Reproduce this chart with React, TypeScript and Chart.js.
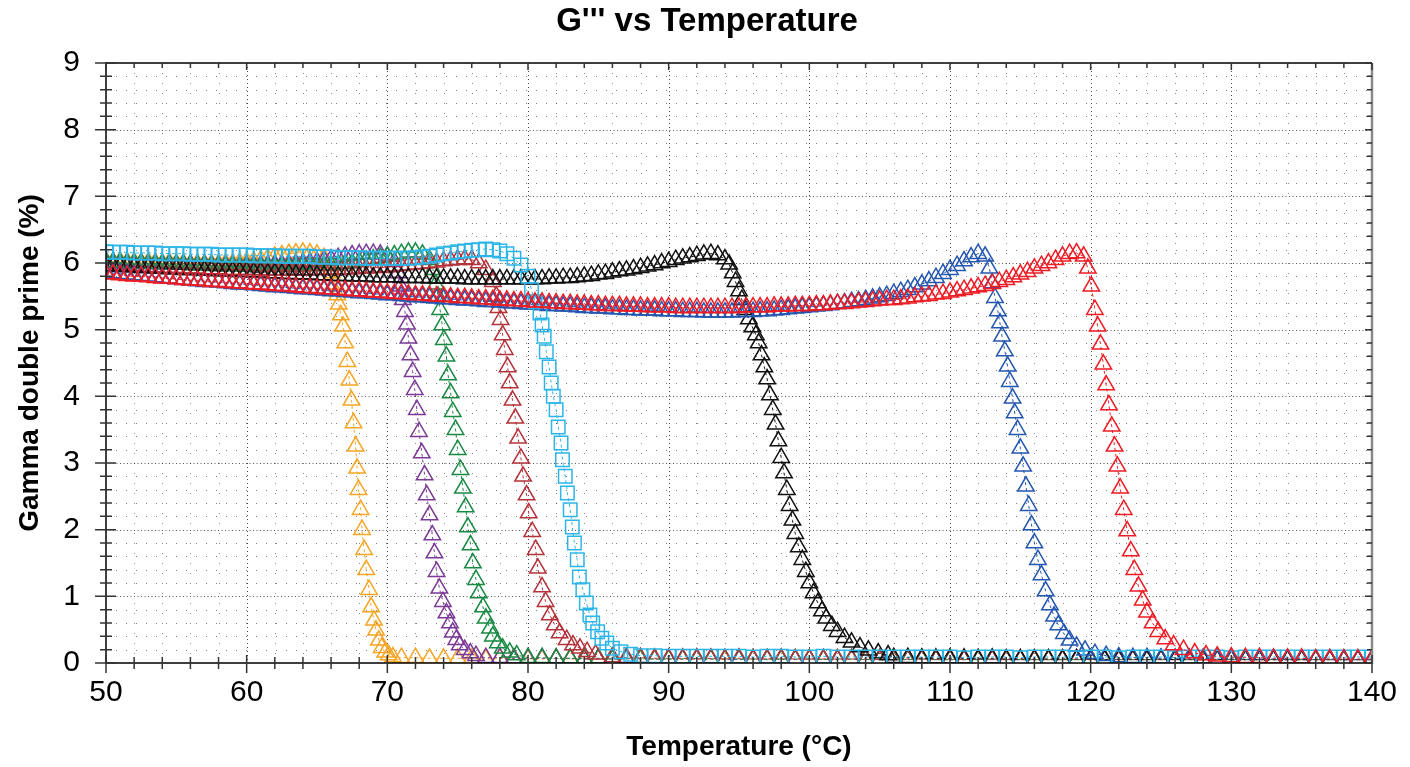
import React, { useEffect, useRef } from 'react';
import { Chart, registerables } from 'chart.js';

Chart.register(...registerables);

const FONT = '"Liberation Sans", Arial, Helvetica, sans-serif';

const TITLE = "G''' vs Temperature";
const X_TITLE = 'Temperature (°C)';
const Y_TITLE = 'Gamma double prime (%)';

const X_MIN = 50, X_MAX = 140, X_MAJOR = 10, X_MINOR = 2;
const Y_MIN = 0, Y_MAX = 9, Y_MAJOR = 1, Y_MINOR = 0.2;

// sampling grid: head values every 0.5 °C from 50 °C, tail values every 1 °C
const HEAD_START = 50;
const HEAD_STEP = 0.5;
const TAIL_STEP = 1;

type Pair = [number, number];

// ---------- orange ----------
const orangeHead = [6.03, 6.02, 6.03, 6.02, 6.02, 6.01, 6.02, 6.01, 6.0, 6.01, 6.0, 6.0, 5.99, 6.0, 5.99, 5.99, 5.99, 6.0, 6.0, 6.01, 6.02, 6.03, 6.05, 6.07, 6.1, 6.12, 6.14, 6.15, 6.16, 6.15, 6.13, 6.08];
const orangeDrop: Pair[] = [[65.8, 5.98], [66.05, 5.85], [66.3, 5.68], [66.45, 5.52], [66.55, 5.38], [66.7, 5.22], [66.85, 5.05], [67.0, 4.8], [67.15, 4.52], [67.3, 4.24], [67.45, 3.94], [67.6, 3.6], [67.75, 3.25], [67.85, 2.92], [67.95, 2.6], [68.1, 2.3], [68.2, 2.0], [68.35, 1.7], [68.5, 1.4], [68.7, 1.1], [68.85, 0.84], [69.05, 0.64], [69.2, 0.49], [69.4, 0.34], [69.6, 0.23], [69.85, 0.16], [70.1, 0.12], [70.4, 0.09]];
const orangeTailStart = 71;
const orangeTail = [0.08, 0.08, 0.07, 0.07, 0.07, 0.07, 0.06, 0.07, 0.07, 0.06, 0.06, 0.07, 0.06, 0.06, 0.06, 0.06, 0.07, 0.06, 0.06, 0.06, 0.06, 0.06, 0.06, 0.05, 0.06, 0.06, 0.06, 0.05, 0.06, 0.06, 0.06, 0.05, 0.05, 0.06, 0.06, 0.05, 0.06, 0.05, 0.05, 0.06, 0.05, 0.05, 0.06, 0.05, 0.05, 0.05, 0.06, 0.05, 0.05, 0.05, 0.05, 0.05, 0.05, 0.05, 0.06, 0.05, 0.05, 0.05, 0.05, 0.05, 0.05, 0.05, 0.05, 0.05, 0.05, 0.05, 0.05, 0.05, 0.05, 0.05];

// ---------- purple ----------
const purpleHead = [6.0, 6.01, 6.0, 6.0, 5.99, 6.0, 5.99, 5.99, 5.98, 5.99, 5.98, 5.98, 5.98, 5.97, 5.98, 5.97, 5.97, 5.97, 5.97, 5.96, 5.97, 5.97, 5.97, 5.97, 5.98, 5.98, 5.98, 5.99, 6.0, 6.01, 6.02, 6.04, 6.06, 6.08, 6.1, 6.12, 6.13, 6.14, 6.14, 6.13, 6.1, 6.02];
const purpleDrop: Pair[] = [[70.75, 5.85], [70.95, 5.65], [71.1, 5.45], [71.25, 5.27], [71.4, 5.08], [71.5, 4.87], [71.65, 4.62], [71.8, 4.37], [71.95, 4.1], [72.1, 3.8], [72.25, 3.47], [72.45, 3.15], [72.65, 2.82], [72.8, 2.52], [73.0, 2.22], [73.2, 1.92], [73.35, 1.65], [73.5, 1.37], [73.7, 1.12], [73.95, 0.92], [74.2, 0.75], [74.45, 0.6], [74.65, 0.46], [74.9, 0.35], [75.15, 0.27], [75.5, 0.2], [75.9, 0.15], [76.3, 0.11]];
const purpleTailStart = 77;
const purpleTail = [0.08, 0.08, 0.07, 0.07, 0.07, 0.07, 0.07, 0.06, 0.07, 0.06, 0.06, 0.07, 0.06, 0.06, 0.06, 0.06, 0.06, 0.06, 0.05, 0.06, 0.06, 0.06, 0.05, 0.06, 0.06, 0.05, 0.06, 0.05, 0.06, 0.05, 0.05, 0.06, 0.05, 0.05, 0.05, 0.06, 0.05, 0.05, 0.05, 0.05, 0.05, 0.05, 0.06, 0.05, 0.05, 0.05, 0.05, 0.05, 0.05, 0.05, 0.05, 0.05, 0.05, 0.05, 0.05, 0.05, 0.05, 0.05, 0.05, 0.05, 0.05, 0.05, 0.05, 0.05];

// ---------- green ----------
const greenHead = [6.02, 6.01, 6.01, 6.0, 6.0, 6.0, 5.99, 5.99, 5.99, 5.98, 5.98, 5.98, 5.97, 5.97, 5.97, 5.96, 5.96, 5.96, 5.96, 5.95, 5.95, 5.95, 5.95, 5.95, 5.95, 5.95, 5.95, 5.95, 5.96, 5.96, 5.96, 5.97, 5.97, 5.98, 5.99, 6.0, 6.02, 6.04, 6.06, 6.08, 6.1, 6.12, 6.14, 6.16, 6.16, 6.13, 6.05];
const greenDrop: Pair[] = [[73.25, 5.9], [73.45, 5.68], [73.6, 5.5], [73.75, 5.3], [73.9, 5.07], [74.02, 4.85], [74.2, 4.6], [74.32, 4.32], [74.5, 4.05], [74.65, 3.77], [74.85, 3.5], [75.0, 3.2], [75.2, 2.9], [75.37, 2.62], [75.57, 2.34], [75.73, 2.04], [75.92, 1.77], [76.08, 1.5], [76.3, 1.25], [76.5, 1.05], [76.8, 0.84], [77.0, 0.67], [77.3, 0.52], [77.5, 0.4], [77.85, 0.3], [78.2, 0.22], [78.7, 0.16], [79.2, 0.12]];
const greenTailStart = 80;
const greenTail = [0.08, 0.08, 0.07, 0.07, 0.07, 0.07, 0.06, 0.07, 0.06, 0.06, 0.06, 0.06, 0.07, 0.06, 0.06, 0.06, 0.06, 0.05, 0.06, 0.06, 0.06, 0.05, 0.06, 0.06, 0.05, 0.06, 0.05, 0.05, 0.06, 0.05, 0.05, 0.05, 0.05, 0.06, 0.05, 0.05, 0.05, 0.05, 0.05, 0.05, 0.05, 0.06, 0.05, 0.05, 0.05, 0.05, 0.05, 0.05, 0.05, 0.05, 0.05, 0.05, 0.05, 0.05, 0.05, 0.05, 0.05, 0.05, 0.05, 0.05, 0.05];

// ---------- dark red ----------
const brownHead = [5.96, 5.96, 5.95, 5.95, 5.95, 5.94, 5.94, 5.94, 5.93, 5.93, 5.93, 5.92, 5.92, 5.92, 5.91, 5.91, 5.91, 5.9, 5.9, 5.9, 5.9, 5.9, 5.89, 5.89, 5.89, 5.89, 5.89, 5.89, 5.89, 5.89, 5.9, 5.9, 5.9, 5.9, 5.91, 5.91, 5.92, 5.92, 5.93, 5.93, 5.94, 5.95, 5.96, 5.97, 5.98, 5.99, 6.0, 6.01, 6.03, 6.04, 6.05, 6.06, 6.05, 6.0, 5.9, 5.72];
const brownDrop: Pair[] = [[77.75, 5.5], [77.9, 5.33], [78.05, 5.15], [78.2, 4.92], [78.35, 4.7], [78.55, 4.44], [78.7, 4.2], [78.9, 3.94], [79.1, 3.67], [79.3, 3.37], [79.5, 3.07], [79.65, 2.8], [79.9, 2.52], [80.05, 2.25], [80.3, 1.97], [80.55, 1.7], [80.7, 1.42], [81.0, 1.14], [81.25, 0.92], [81.55, 0.72], [81.9, 0.57], [82.25, 0.45], [82.75, 0.35], [83.2, 0.27], [83.7, 0.22], [84.2, 0.17], [84.8, 0.13]];
const brownTailStart = 86;
const brownTail = [0.09, 0.08, 0.08, 0.07, 0.07, 0.07, 0.07, 0.07, 0.06, 0.07, 0.06, 0.06, 0.07, 0.06, 0.06, 0.06, 0.06, 0.06, 0.06, 0.05, 0.06, 0.06, 0.06, 0.05, 0.06, 0.05, 0.06, 0.05, 0.05, 0.06, 0.05, 0.05, 0.05, 0.05, 0.06, 0.05, 0.05, 0.05, 0.05, 0.05, 0.05, 0.05, 0.05, 0.05, 0.05, 0.05, 0.05, 0.05, 0.05, 0.05, 0.05, 0.05, 0.05, 0.05, 0.05];

// ---------- light blue (squares) ----------
const cyanHead = [6.17, 6.16, 6.16, 6.16, 6.15, 6.15, 6.15, 6.15, 6.14, 6.14, 6.14, 6.14, 6.13, 6.13, 6.13, 6.13, 6.12, 6.12, 6.12, 6.12, 6.12, 6.11, 6.11, 6.11, 6.11, 6.1, 6.1, 6.1, 6.1, 6.1, 6.09, 6.09, 6.09, 6.08, 6.08, 6.08, 6.08, 6.07, 6.07, 6.07, 6.07, 6.07, 6.07, 6.07, 6.08, 6.09, 6.1, 6.12, 6.14, 6.15, 6.17, 6.18, 6.19, 6.2, 6.21, 6.2, 6.18, 6.14, 6.07, 5.97, 5.8];
const cyanDrop: Pair[] = [[80.25, 5.6], [80.5, 5.42], [80.85, 5.25], [81.0, 5.07], [81.15, 4.9], [81.3, 4.67], [81.5, 4.44], [81.65, 4.2], [81.8, 4.0], [82.0, 3.8], [82.15, 3.54], [82.35, 3.3], [82.45, 3.05], [82.65, 2.8], [82.8, 2.55], [83.0, 2.3], [83.15, 2.04], [83.3, 1.8], [83.5, 1.55], [83.65, 1.29], [83.9, 1.1], [84.15, 0.9], [84.4, 0.72], [84.6, 0.6], [84.95, 0.47], [85.25, 0.37], [85.6, 0.3], [86.0, 0.22], [86.6, 0.17], [87.3, 0.13]];
const cyanTailStart = 88;
const cyanTail = [0.11, 0.11, 0.1, 0.1, 0.1, 0.1, 0.1, 0.1, 0.09, 0.1, 0.1, 0.09, 0.09, 0.1, 0.09, 0.09, 0.09, 0.09, 0.09, 0.09, 0.09, 0.09, 0.09, 0.08, 0.09, 0.09, 0.09, 0.08, 0.09, 0.09, 0.09, 0.08, 0.09, 0.09, 0.08, 0.09, 0.09, 0.09, 0.08, 0.09, 0.09, 0.09, 0.08, 0.09, 0.09, 0.09, 0.09, 0.09, 0.09, 0.09, 0.09, 0.09, 0.09];

// ---------- black ----------
const blackHead = [5.96, 5.95, 5.95, 5.94, 5.94, 5.93, 5.93, 5.92, 5.92, 5.91, 5.91, 5.9, 5.9, 5.9, 5.89, 5.89, 5.88, 5.88, 5.88, 5.87, 5.87, 5.86, 5.86, 5.85, 5.85, 5.84, 5.84, 5.83, 5.83, 5.83, 5.82, 5.82, 5.81, 5.81, 5.81, 5.8, 5.8, 5.8, 5.79, 5.79, 5.79, 5.79, 5.78, 5.78, 5.78, 5.78, 5.77, 5.77, 5.77, 5.77, 5.77, 5.76, 5.76, 5.76, 5.76, 5.76, 5.76, 5.76, 5.76, 5.76, 5.76, 5.76, 5.76, 5.77, 5.77, 5.78, 5.78, 5.79, 5.8, 5.81, 5.83, 5.84, 5.86, 5.88, 5.89, 5.91, 5.93, 5.95, 5.97, 6.0, 6.02, 6.05, 6.07, 6.09, 6.11, 6.13, 6.14, 6.12, 6.06];
const blackDrop: Pair[] = [[94.3, 5.98], [94.55, 5.85], [94.75, 5.72], [95.0, 5.58], [95.2, 5.45], [95.45, 5.3], [95.7, 5.16], [95.95, 5.04], [96.2, 4.92], [96.4, 4.8], [96.6, 4.62], [96.8, 4.44], [97.0, 4.26], [97.2, 4.02], [97.4, 3.8], [97.6, 3.58], [97.8, 3.33], [98.0, 3.08], [98.2, 2.85], [98.4, 2.6], [98.6, 2.36], [98.8, 2.14], [99.0, 1.94], [99.25, 1.74], [99.5, 1.55], [99.75, 1.37], [100.0, 1.2], [100.3, 1.05], [100.6, 0.9], [100.9, 0.78], [101.2, 0.67], [101.6, 0.56], [102.0, 0.47], [102.5, 0.38], [103.0, 0.31], [103.6, 0.24], [104.2, 0.19], [104.9, 0.15], [105.6, 0.12]];
const blackTailStart = 106;
const blackTail = [0.08, 0.08, 0.07, 0.07, 0.07, 0.07, 0.06, 0.07, 0.06, 0.06, 0.06, 0.06, 0.06, 0.06, 0.06, 0.05, 0.06, 0.06, 0.05, 0.06, 0.05, 0.06, 0.05, 0.05, 0.06, 0.05, 0.05, 0.05, 0.05, 0.05, 0.05, 0.05, 0.05, 0.05, 0.05];

// ---------- blue ----------
const blueHead = [5.86, 5.85, 5.84, 5.83, 5.82, 5.81, 5.8, 5.79, 5.78, 5.77, 5.76, 5.75, 5.74, 5.73, 5.72, 5.72, 5.71, 5.7, 5.69, 5.68, 5.68, 5.67, 5.66, 5.65, 5.64, 5.64, 5.63, 5.62, 5.61, 5.61, 5.6, 5.59, 5.58, 5.58, 5.57, 5.56, 5.55, 5.55, 5.54, 5.53, 5.52, 5.52, 5.51, 5.5, 5.49, 5.49, 5.48, 5.47, 5.46, 5.46, 5.45, 5.44, 5.44, 5.43, 5.42, 5.42, 5.41, 5.4, 5.4, 5.39, 5.38, 5.38, 5.37, 5.36, 5.36, 5.35, 5.35, 5.34, 5.33, 5.33, 5.32, 5.32, 5.31, 5.31, 5.3, 5.3, 5.29, 5.29, 5.29, 5.28, 5.28, 5.28, 5.27, 5.27, 5.27, 5.26, 5.26, 5.26, 5.26, 5.26, 5.27, 5.27, 5.27, 5.28, 5.28, 5.29, 5.3, 5.31, 5.32, 5.33, 5.34, 5.35, 5.36, 5.37, 5.39, 5.4, 5.42, 5.43, 5.45, 5.47, 5.49, 5.51, 5.54, 5.57, 5.6, 5.64, 5.68, 5.73, 5.78, 5.84, 5.9, 5.96, 6.03, 6.09, 6.14, 6.1];
const blueDrop: Pair[] = [[112.8, 5.92], [113.0, 5.7], [113.2, 5.48], [113.4, 5.28], [113.55, 5.1], [113.7, 4.9], [113.9, 4.68], [114.1, 4.45], [114.25, 4.22], [114.45, 3.97], [114.6, 3.75], [114.8, 3.5], [115.0, 3.22], [115.2, 2.95], [115.4, 2.65], [115.6, 2.36], [115.8, 2.07], [116.0, 1.8], [116.25, 1.55], [116.5, 1.32], [116.8, 1.08], [117.1, 0.87], [117.4, 0.7], [117.7, 0.57], [118.1, 0.44], [118.5, 0.34], [119.0, 0.25], [119.6, 0.19], [120.3, 0.14], [121.1, 0.11]];
const blueTailStart = 122;
const blueTail = [0.09, 0.08, 0.08, 0.07, 0.07, 0.07, 0.07, 0.06, 0.06, 0.06, 0.06, 0.06, 0.06, 0.06, 0.05, 0.06, 0.05, 0.05, 0.05];

// ---------- red ----------
const redHead = [5.84, 5.83, 5.82, 5.81, 5.8, 5.8, 5.79, 5.78, 5.77, 5.77, 5.76, 5.75, 5.74, 5.74, 5.73, 5.72, 5.72, 5.71, 5.7, 5.7, 5.69, 5.68, 5.68, 5.67, 5.66, 5.66, 5.65, 5.64, 5.63, 5.63, 5.62, 5.61, 5.61, 5.6, 5.59, 5.58, 5.58, 5.57, 5.56, 5.56, 5.55, 5.54, 5.54, 5.53, 5.52, 5.52, 5.51, 5.5, 5.5, 5.49, 5.48, 5.48, 5.47, 5.46, 5.46, 5.45, 5.44, 5.44, 5.43, 5.43, 5.42, 5.41, 5.41, 5.4, 5.4, 5.39, 5.39, 5.38, 5.38, 5.37, 5.37, 5.36, 5.36, 5.36, 5.35, 5.35, 5.35, 5.34, 5.34, 5.34, 5.34, 5.33, 5.33, 5.33, 5.33, 5.33, 5.33, 5.33, 5.33, 5.33, 5.33, 5.34, 5.34, 5.34, 5.34, 5.35, 5.35, 5.35, 5.36, 5.36, 5.36, 5.37, 5.37, 5.38, 5.39, 5.39, 5.4, 5.41, 5.42, 5.43, 5.44, 5.45, 5.45, 5.46, 5.47, 5.49, 5.5, 5.51, 5.53, 5.54, 5.56, 5.58, 5.6, 5.62, 5.64, 5.66, 5.69, 5.72, 5.75, 5.79, 5.83, 5.87, 5.92, 5.96, 6.0, 6.05, 6.1, 6.14, 6.15, 6.1];
const redDrop: Pair[] = [[119.8, 5.92], [120.05, 5.65], [120.3, 5.3], [120.5, 5.05], [120.7, 4.78], [120.9, 4.48], [121.1, 4.17], [121.3, 3.87], [121.5, 3.55], [121.7, 3.25], [121.9, 2.95], [122.1, 2.62], [122.35, 2.3], [122.6, 1.98], [122.85, 1.68], [123.1, 1.4], [123.4, 1.15], [123.7, 0.94], [124.0, 0.76], [124.4, 0.6], [124.8, 0.47], [125.3, 0.36], [125.9, 0.27], [126.6, 0.2], [127.4, 0.15], [128.2, 0.12]];
const redTailStart = 129;
const redTail = [0.1, 0.09, 0.08, 0.08, 0.07, 0.07, 0.07, 0.06, 0.06, 0.06, 0.06, 0.06];

const COLORS = {
  orange: '#F6A524',
  purple: '#7B3A96',
  green: '#198A44',
  brown: '#B4323A',
  cyan: '#2CB5E8',
  black: '#111111',
  blue: '#2457B0',
  red: '#EE1C25',
};

function buildSeries(head: number[], drop: Pair[], tailStart: number, tail: number[]) {
  const pts: { x: number; y: number }[] = [];
  head.forEach((v, i) => pts.push({ x: HEAD_START + i * HEAD_STEP, y: v }));
  drop.forEach(([t, v]) => pts.push({ x: t, y: v }));
  tail.forEach((v, i) => pts.push({ x: tailStart + i * TAIL_STEP, y: v }));
  return pts;
}

function makeDataset(label: string, color: string, pts: { x: number; y: number }[], style: string, radius: number) {
  return {
    label,
    data: pts,
    showLine: true,
    borderColor: color,
    borderWidth: 1,
    borderDash: [3, 3],
    backgroundColor: 'transparent',
    pointStyle: style,
    pointRadius: radius,
    pointBorderWidth: 1.5,
    pointBorderColor: color,
    pointBackgroundColor: 'transparent',
    clip: 0,
  };
}

const framePlugin = {
  id: 'frame',
  beforeDatasetsDraw(chart: any) {
    const { ctx, chartArea: a, scales } = chart;
    const xs = scales.x, ys = scales.y;
    ctx.save();
    ctx.lineWidth = 1;
    const nx = Math.round((X_MAX - X_MIN) / X_MINOR);
    for (let i = 1; i < nx; i++) {
      const v = X_MIN + i * X_MINOR;
      const major = Math.abs(v / X_MAJOR - Math.round(v / X_MAJOR)) < 1e-6;
      const px = Math.round(xs.getPixelForValue(v)) + 0.5;
      ctx.setLineDash(major ? [1, 3] : [1, 9]);
      ctx.strokeStyle = major ? 'rgba(0,0,0,0.7)' : 'rgba(0,0,0,0.45)';
      ctx.beginPath();
      ctx.moveTo(px, a.top);
      ctx.lineTo(px, a.bottom);
      ctx.stroke();
    }
    const ny = Math.round((Y_MAX - Y_MIN) / Y_MINOR);
    for (let i = 1; i < ny; i++) {
      const v = Y_MIN + i * Y_MINOR;
      const major = Math.abs(v / Y_MAJOR - Math.round(v / Y_MAJOR)) < 1e-6;
      const py = Math.round(ys.getPixelForValue(v)) + 0.5;
      ctx.setLineDash(major ? [1, 2.5] : [1, 9]);
      ctx.strokeStyle = major ? 'rgba(0,0,0,0.65)' : 'rgba(0,0,0,0.5)';
      ctx.beginPath();
      ctx.moveTo(a.left, py);
      ctx.lineTo(a.right, py);
      ctx.stroke();
    }
    ctx.restore();
  },
  afterDatasetsDraw(chart: any) {
    const { ctx, chartArea: a, scales } = chart;
    const xs = scales.x, ys = scales.y;
    ctx.save();
    ctx.setLineDash([]);
    ctx.lineWidth = 2.5;
    ctx.strokeStyle = '#8a8a8a';
    ctx.beginPath();
    ctx.moveTo(a.right, a.top);
    ctx.lineTo(a.right, a.bottom + 1);
    ctx.stroke();
    ctx.lineWidth = 1.5;
    ctx.strokeStyle = '#000';
    ctx.beginPath();
    ctx.moveTo(a.left - 1, a.top);
    ctx.lineTo(a.right, a.top);
    ctx.moveTo(a.left, a.top);
    ctx.lineTo(a.left, a.bottom);
    ctx.moveTo(a.left - 1, a.bottom);
    ctx.lineTo(a.right, a.bottom);
    ctx.stroke();
    ctx.lineWidth = 1.5;
    ctx.strokeStyle = '#333';
    const nx = Math.round((X_MAX - X_MIN) / X_MINOR);
    ctx.beginPath();
    for (let i = 0; i <= nx; i++) {
      const v = X_MIN + i * X_MINOR;
      const major = Math.abs(v / X_MAJOR - Math.round(v / X_MAJOR)) < 1e-6;
      const px = xs.getPixelForValue(v);
      ctx.moveTo(px, a.bottom - (major ? 8 : 6));
      ctx.lineTo(px, a.bottom + (major ? 10 : 6));
      ctx.moveTo(px, a.top);
      ctx.lineTo(px, a.top + (major ? 7 : 5));
    }
    const ny = Math.round((Y_MAX - Y_MIN) / Y_MINOR);
    for (let i = 0; i <= ny; i++) {
      const v = Y_MIN + i * Y_MINOR;
      const major = Math.abs(v / Y_MAJOR - Math.round(v / Y_MAJOR)) < 1e-6;
      const py = ys.getPixelForValue(v);
      ctx.moveTo(a.left - (major ? 11 : 6), py);
      ctx.lineTo(a.left + (major ? 10 : 6), py);
      ctx.moveTo(a.right, py);
      ctx.lineTo(a.right - (major ? 7 : 5), py);
    }
    ctx.stroke();
    ctx.restore();
  },
  afterDraw(chart: any) {
    // chart title, centred on the whole canvas
    const { ctx } = chart;
    ctx.save();
    ctx.font = 'bold 33px ' + FONT;
    ctx.fillStyle = '#000';
    ctx.textAlign = 'center';
    ctx.textBaseline = 'middle';
    ctx.fillText(TITLE, chart.width / 2 + 2, 22);
    ctx.restore();
  },
};

export default function App() {
  const ref = useRef<HTMLCanvasElement | null>(null);

  useEffect(() => {
    if (!ref.current) return;
    const datasets = [
      makeDataset('Red', COLORS.red, buildSeries(redHead, redDrop, redTailStart, redTail), 'triangle', 9.5),
      makeDataset('Light blue', COLORS.cyan, buildSeries(cyanHead, cyanDrop, cyanTailStart, cyanTail), 'rect', 9.5),
      makeDataset('Blue', COLORS.blue, buildSeries(blueHead, blueDrop, blueTailStart, blueTail), 'triangle', 9.5),
      makeDataset('Black', COLORS.black, buildSeries(blackHead, blackDrop, blackTailStart, blackTail), 'triangle', 9.5),
      makeDataset('Dark red', COLORS.brown, buildSeries(brownHead, brownDrop, brownTailStart, brownTail), 'triangle', 9.5),
      makeDataset('Green', COLORS.green, buildSeries(greenHead, greenDrop, greenTailStart, greenTail), 'triangle', 9.5),
      makeDataset('Purple', COLORS.purple, buildSeries(purpleHead, purpleDrop, purpleTailStart, purpleTail), 'triangle', 9.5),
      makeDataset('Orange', COLORS.orange, buildSeries(orangeHead, orangeDrop, orangeTailStart, orangeTail), 'triangle', 9.5),
    ];

    const chart = new Chart(ref.current, {
      type: 'scatter',
      data: { datasets } as any,
      plugins: [framePlugin],
      options: {
        responsive: false,
        animation: false,
        devicePixelRatio: 1,
        layout: { padding: { left: 0, right: 38, top: 63, bottom: 0 } },
        plugins: {
          legend: { display: false },
          tooltip: { enabled: false },
          title: { display: false },
        },
        scales: {
          x: {
            type: 'linear',
            min: X_MIN,
            max: X_MAX,
            afterFit: (s: any) => { s.height = 104; },
            ticks: {
              stepSize: X_MAJOR,
              color: '#000',
              font: { family: FONT, size: 30, lineHeight: 1.2 },
              padding: 12,
              maxRotation: 0,
              autoSkip: false,
            },
            grid: { display: false, drawTicks: false, tickLength: 0 },
            border: { display: false },
            title: {
              display: true,
              text: X_TITLE,
              color: '#000',
              font: { family: FONT, size: 28, weight: 'bold', lineHeight: 1.2 },
              padding: { top: 0, bottom: 3 },
            },
          },
          y: {
            type: 'linear',
            min: Y_MIN,
            max: Y_MAX,
            afterFit: (s: any) => { s.width = 106; },
            ticks: {
              stepSize: Y_MAJOR,
              color: '#000',
              font: { family: FONT, size: 30, lineHeight: 1.2 },
              padding: 26,
            },
            grid: { display: false, drawTicks: false, tickLength: 0 },
            border: { display: false },
            title: {
              display: true,
              text: Y_TITLE,
              color: '#000',
              font: { family: FONT, size: 28, weight: 'bold', lineHeight: 1.2 },
              padding: { top: 13, bottom: 0 },
            },
          },
        },
      } as any,
    });
    return () => chart.destroy();
  }, []);

  return (
    <div style={{ position: 'absolute', left: 0, top: 0, width: 1410, height: 767, background: '#fff' }}>
      <canvas ref={ref} width={1410} height={767} style={{ display: 'block' }} />
    </div>
  );
}
